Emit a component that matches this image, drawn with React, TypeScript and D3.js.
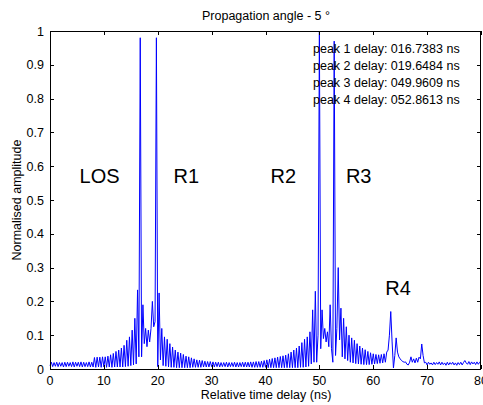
import React from "react";
import * as d3 from "d3";

// sampling of the delay axis (ns)
const T_START = 0;
const T_STEP = 0.25;

// normalised amplitude, one row per ns (4 samples per ns)
const amplitude: number[] = [
  0.010, 0.020, 0.007, 0.019,
  0.008, 0.020, 0.007, 0.019,
  0.008, 0.019, 0.006, 0.020,
  0.007, 0.020, 0.008, 0.019,
  0.007, 0.021, 0.006, 0.020,
  0.008, 0.020, 0.007, 0.021,
  0.006, 0.020, 0.007, 0.019,
  0.007, 0.021, 0.006, 0.020,
  0.006, 0.034, 0.005, 0.035,
  0.006, 0.035, 0.005, 0.036,
  0.006, 0.036, 0.005, 0.038,
  0.006, 0.042, 0.005, 0.046,
  0.006, 0.052, 0.006, 0.056,
  0.006, 0.062, 0.006, 0.070,
  0.007, 0.085, 0.008, 0.095,
  0.010, 0.115, 0.012, 0.150,
  0.015, 0.234, 0.036, 0.980,
  0.036, 0.190, 0.075, 0.120,
  0.066, 0.115, 0.080, 0.120,
  0.200, 0.125, 0.140, 0.980,
  0.007, 0.225, 0.027, 0.120,
  0.010, 0.095, 0.008, 0.088,
  0.006, 0.075, 0.005, 0.065,
  0.005, 0.056, 0.004, 0.050,
  0.004, 0.047, 0.004, 0.043,
  0.004, 0.038, 0.004, 0.036,
  0.004, 0.033, 0.005, 0.030,
  0.005, 0.027, 0.005, 0.026,
  0.005, 0.025, 0.006, 0.023,
  0.006, 0.022, 0.006, 0.022,
  0.007, 0.021, 0.006, 0.020,
  0.007, 0.020, 0.006, 0.019,
  0.007, 0.019, 0.007, 0.020,
  0.006, 0.019, 0.007, 0.019,
  0.007, 0.020, 0.006, 0.019,
  0.006, 0.019, 0.007, 0.020,
  0.006, 0.020, 0.006, 0.020,
  0.006, 0.021, 0.005, 0.021,
  0.005, 0.022, 0.005, 0.022,
  0.005, 0.023, 0.005, 0.025,
  0.005, 0.027, 0.004, 0.029,
  0.004, 0.031, 0.004, 0.033,
  0.004, 0.035, 0.004, 0.037,
  0.004, 0.039, 0.004, 0.041,
  0.004, 0.045, 0.004, 0.050,
  0.004, 0.056, 0.004, 0.062,
  0.004, 0.068, 0.005, 0.078,
  0.005, 0.088, 0.006, 0.095,
  0.008, 0.110, 0.015, 0.175,
  0.020, 0.230, 0.020, 0.100,
  1.000, 0.060, 0.175, 0.090,
  0.120, 0.080, 0.110, 0.066,
  0.190, 0.060, 0.020, 0.970,
  0.040, 0.120, 0.300, 0.086,
  0.180, 0.036, 0.150, 0.030,
  0.125, 0.025, 0.100, 0.020,
  0.092, 0.018, 0.085, 0.016,
  0.075, 0.015, 0.068, 0.014,
  0.062, 0.013, 0.057, 0.013,
  0.052, 0.013, 0.048, 0.014,
  0.045, 0.015, 0.043, 0.016,
  0.042, 0.017, 0.043, 0.018,
  0.045, 0.020, 0.050, 0.056,
  0.100, 0.170, 0.080, 0.003,
  0.040, 0.092, 0.050, 0.036,
  0.030, 0.025, 0.022, 0.020,
  0.021, 0.014, 0.012, 0.020,
  0.036, 0.020, 0.030, 0.018,
  0.032, 0.020, 0.035, 0.030,
  0.074, 0.040, 0.018, 0.020,
  0.012, 0.020, 0.014, 0.018,
  0.012, 0.020, 0.013, 0.019,
  0.014, 0.021, 0.012, 0.020,
  0.013, 0.018, 0.011, 0.020,
  0.012, 0.019, 0.014, 0.020,
  0.012, 0.018, 0.011, 0.019,
  0.013, 0.020, 0.012, 0.019,
  0.025, 0.018, 0.014, 0.022,
  0.013, 0.021, 0.015, 0.020,
  0.013, 0.021, 0.014, 0.020,
  0.018,
];

const xTicks = [0, 10, 20, 30, 40, 50, 60, 70, 80];
const yTicks = [0, 0.1, 0.2, 0.3, 0.4, 0.5, 0.6, 0.7, 0.8, 0.9, 1];
const yTickLabels = ["0", "0.1", "0.2", "0.3", "0.4", "0.5", "0.6", "0.7", "0.8", "0.9", "1"];

const peakLines = [
  "peak 1 delay: 016.7383 ns",
  "peak 2 delay: 019.6484 ns",
  "peak 3 delay: 049.9609 ns",
  "peak 4 delay: 052.8613 ns",
];

const regionLabels = ["LOS", "R1", "R2", "R3", "R4"];
const regionX = [9.2, 25.3, 43.3, 57.3, 64.6];
const regionY = [0.55, 0.55, 0.55, 0.55, 0.22];

const FONT = "'Liberation Sans', Arial, Helvetica, sans-serif";

export default function App() {
  const W = 483;
  const H = 405;
  const left = 50, right = 481, top = 31, bottom = 369;

  const x = d3.scaleLinear().domain([0, 80]).range([left, right]);
  const y = d3.scaleLinear().domain([0, 1]).range([bottom, top]);

  const pts: [number, number][] = amplitude.map((v, i) => [T_START + i * T_STEP, v]);
  const line = d3
    .line<[number, number]>()
    .x((d) => x(d[0]))
    .y((d) => y(d[1]));

  const tl = 4;

  return (
    <svg
      width={W}
      height={H}
      style={{ position: "absolute", left: 0, top: 0, background: "#fff" }}
      fontFamily={FONT}
    >
      <rect x={0} y={0} width={W} height={H} fill="#fff" />
      <text x={266} y={20} textAnchor="middle" fontSize={12.5} fill="#000">
        Propagation angle - 5 °
      </text>

      <path d={line(pts) || ""} fill="none" stroke="#0000ff" strokeWidth={1} />

      {/* box */}
      <rect
        x={left + 0.5}
        y={top + 0.5}
        width={right - left - 1}
        height={bottom - top}
        fill="none"
        stroke="#000"
        strokeWidth={1}
      />

      {xTicks.map((t) => {
        const px = Math.round(x(t)) + 0.5;
        return (
          <g key={"x" + t}>
            <line x1={px} x2={px} y1={bottom} y2={bottom - tl} stroke="#000" />
            <line x1={px} x2={px} y1={top} y2={top + tl} stroke="#000" />
            <text x={x(t)} y={385} textAnchor="middle" fontSize={12.5} fill="#000">
              {t}
            </text>
          </g>
        );
      })}
      {yTicks.map((t, i) => {
        const py = Math.round(y(t)) + 0.5;
        return (
          <g key={"y" + t}>
            <line x1={left} x2={left + tl} y1={py} y2={py} stroke="#000" />
            <line x1={right} x2={right - tl} y1={py} y2={py} stroke="#000" />
            <text x={44} y={y(t) + 4.5} textAnchor="end" fontSize={12.5} fill="#000">
              {yTickLabels[i]}
            </text>
          </g>
        );
      })}

      <text x={266} y={399} textAnchor="middle" fontSize={12.5} fill="#000">
        Relative time delay (ns)
      </text>
      <text
        transform={`translate(21, 200) rotate(-90)`}
        textAnchor="middle"
        fontSize={12.5}
        fill="#000"
      >
        Normalised amplitude
      </text>

      {peakLines.map((s, i) => (
        <text key={s} x={313} y={53 + i * 17} fontSize={12.5} fill="#000">
          {s}
        </text>
      ))}

      {regionLabels.map((s, i) => (
        <text
          key={s}
          x={x(regionX[i])}
          y={y(regionY[i])}
          textAnchor="middle"
          fontSize={20}
          fill="#000"
        >
          {s}
        </text>
      ))}
    </svg>
  );
}
